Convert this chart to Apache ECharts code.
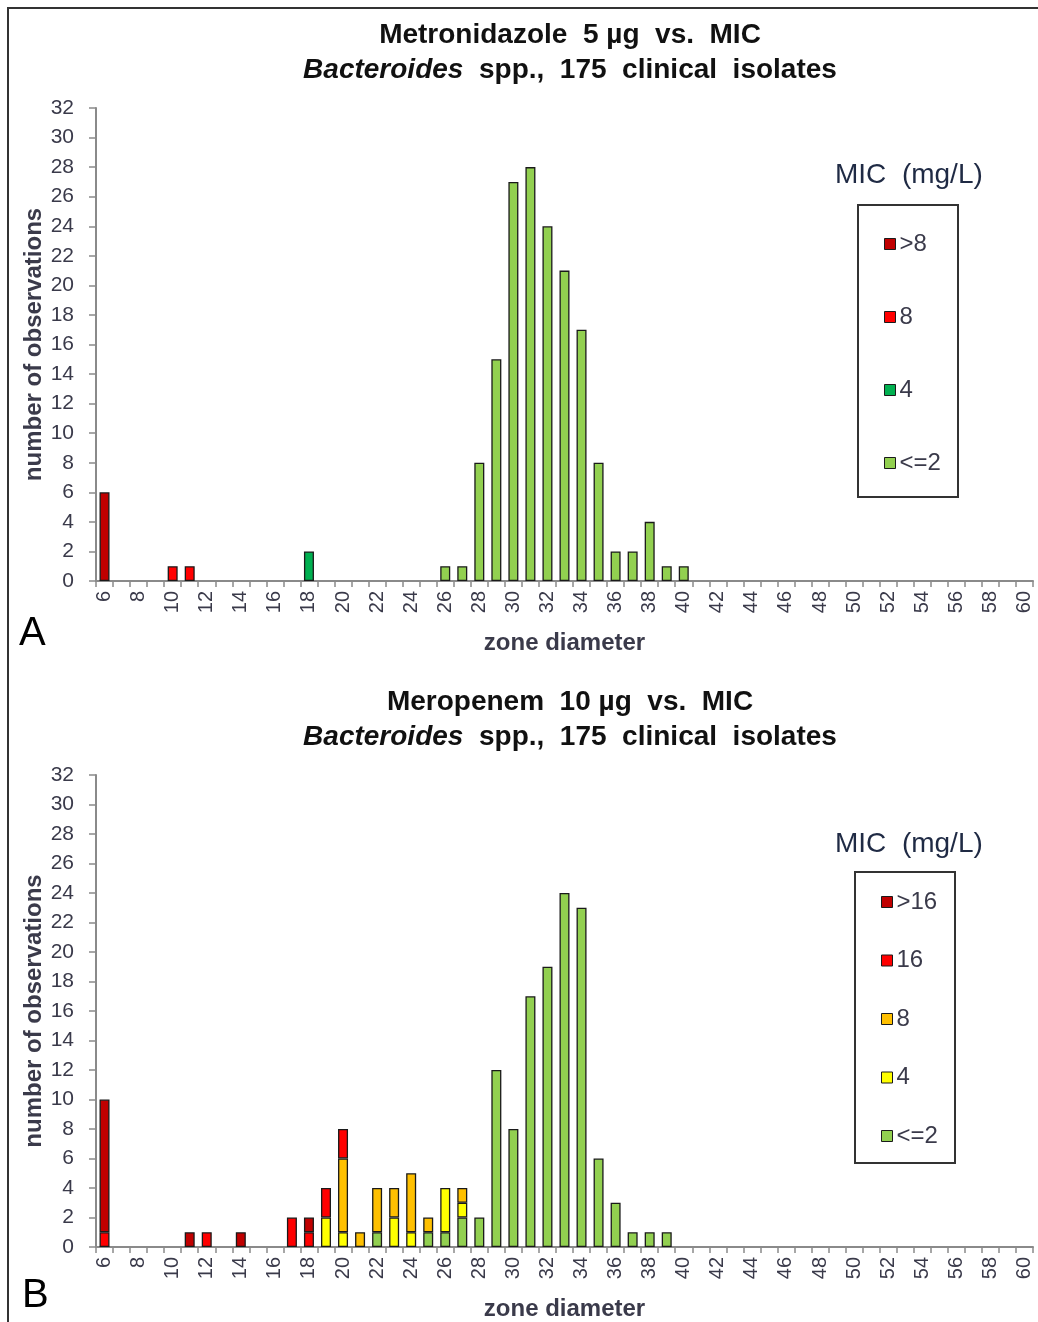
<!DOCTYPE html>
<html>
<head>
<meta charset="utf-8">
<script src="https://cdn.jsdelivr.net/npm/echarts@6/dist/echarts.min.js"></script>
<style>
  html, body { margin: 0; padding: 0; background: #fff; }
  #main { width: 1038px; height: 1322px; }
</style>
</head>
<body>
<div id="main"></div>
<script>
// zone diameters 6..60 mm
const zones = [];
for (let z = 6; z <= 60; z++) zones.push(String(z));
const yTicks = { min: 0, max: 32, interval: 2 };

// A: metronidazole, [zone, count] per MIC class
const metroGt8 = [[6, 6]];
const metro8 = [[10, 1], [11, 1]];
const metro4 = [[18, 2]];
const metroLe2 = [[26, 1], [27, 1], [28, 8], [29, 15], [30, 27], [31, 28], [32, 24], [33, 21],
  [34, 17], [35, 8], [36, 2], [37, 2], [38, 4], [39, 1], [40, 1]];

// B: meropenem, [zone, count] per MIC class
const meroGt16 = [[6, 9], [11, 1], [14, 1], [18, 1]];
const mero16 = [[6, 1], [12, 1], [17, 2], [18, 1], [19, 2], [20, 2]];
const mero8 = [[20, 5], [21, 1], [22, 3], [23, 2], [24, 4], [25, 1], [27, 1]];
const mero4 = [[19, 2], [20, 1], [23, 2], [24, 1], [26, 3], [27, 1]];
const meroLe2 = [[22, 1], [25, 1], [26, 1], [27, 2], [28, 2], [29, 12], [30, 8], [31, 17],
  [32, 19], [33, 24], [34, 23], [35, 6], [36, 3], [37, 1], [38, 1], [39, 1]];

// spread [zone, count] pairs over the category axis
function toSeriesData(pairs) {
  const out = zones.map(() => null);
  pairs.forEach(([z, n]) => { out[z - 6] = n; });
  return out;
}

const FONT = "'Liberation Sans', Arial, sans-serif";
const TXT = '#3a3a4a';

function barSeries(name, pairs, color, idx, stack) {
  return {
    name: name,
    type: 'bar',
    stack: stack,
    xAxisIndex: idx,
    yAxisIndex: idx,
    barWidth: 10,
    data: toSeriesData(pairs),
    itemStyle: { color: color, borderColor: '#1a1a1a', borderWidth: 1.3 }
  };
}

function xAxisFor(idx) {
  return {
    type: 'category',
    gridIndex: idx,
    data: zones,
    name: 'zone diameter',
    nameLocation: 'middle',
    nameGap: 50,
    nameTextStyle: { fontFamily: FONT, fontSize: 24, fontWeight: 'bold', color: TXT },
    axisLine: { lineStyle: { color: '#8a8a8a', width: 2 } },
    axisTick: { show: true, interval: 0, length: 6, lineStyle: { color: '#8a8a8a', width: 1.5 } },
    axisLabel: { interval: 1, rotate: 90, margin: 10, fontFamily: FONT, fontSize: 20, color: TXT }
  };
}

function yAxisFor(idx) {
  return {
    type: 'value',
    gridIndex: idx,
    min: yTicks.min,
    max: yTicks.max,
    interval: yTicks.interval,
    name: 'number of observations',
    nameLocation: 'middle',
    nameGap: 50,
    nameMoveOverlap: false,
    nameTextStyle: { fontFamily: FONT, fontSize: 24, fontWeight: 'bold', color: TXT },
    splitLine: { show: false },
    axisLine: { show: true, lineStyle: { color: '#8a8a8a', width: 2 } },
    axisTick: { show: true, length: 7, lineStyle: { color: '#8a8a8a', width: 1.5 } },
    axisLabel: { margin: 22, fontFamily: FONT, fontSize: 21, color: TXT }
  };
}

function legendFor(names, left, top, gap) {
  return {
    orient: 'vertical',
    left: left,
    top: top,
    data: names,
    itemWidth: 11,
    itemHeight: 11,
    itemGap: gap,
    icon: 'rect',
    selectedMode: false,
    formatter: n => n.slice(2),
    itemStyle: { borderColor: '#1a1a1a', borderWidth: 1 },
    textStyle: { fontFamily: FONT, fontSize: 24, color: TXT, lineHeight: 24, padding: [0, 0, 0, -1] }
  };
}

const titleStyle = {
  fontFamily: FONT, fontSize: 28, fontWeight: 'bold', color: '#111', lineHeight: 35,
  rich: { i: { fontFamily: FONT, fontSize: 28, fontWeight: 'bold', fontStyle: 'italic', color: '#111' } }
};

const chart = echarts.init(document.getElementById('main'));
chart.setOption({
  animation: false,
  backgroundColor: '#fff',
  title: [
    { text: 'Metronidazole  5 µg  vs.  MIC\n{i|Bacteroides}  spp.,  175  clinical  isolates',
      left: 565, top: 13, textAlign: 'center', textStyle: titleStyle },
    { text: 'Meropenem  10 µg  vs.  MIC\n{i|Bacteroides}  spp.,  175  clinical  isolates',
      left: 565, top: 680, textAlign: 'center', textStyle: titleStyle }
  ],
  grid: [
    { left: 96, top: 108, width: 937, height: 473 },
    { left: 96, top: 775, width: 937, height: 473 }
  ],
  xAxis: [xAxisFor(0), xAxisFor(1)],
  yAxis: [yAxisFor(0), yAxisFor(1)],
  legend: [
    legendFor(['A >8', 'A 8', 'A 4', 'A <=2'], 879, 227, 49),
    legendFor(['B >16', 'B 16', 'B 8', 'B 4', 'B <=2'], 876, 885, 34.5)
  ],
  series: [
    barSeries('A <=2', metroLe2, '#92D050', 0, 'a'),
    barSeries('A 4', metro4, '#00B050', 0, 'a'),
    barSeries('A 8', metro8, '#FF0000', 0, 'a'),
    barSeries('A >8', metroGt8, '#C00000', 0, 'a'),
    barSeries('B <=2', meroLe2, '#92D050', 1, 'b'),
    barSeries('B 4', mero4, '#FFFF00', 1, 'b'),
    barSeries('B 8', mero8, '#FFC000', 1, 'b'),
    barSeries('B 16', mero16, '#FF0000', 1, 'b'),
    barSeries('B >16', meroGt16, '#C00000', 1, 'b')
  ],
  graphic: [
    { type: 'rect', shape: { x: 8, y: 8, width: 1040, height: 1330 },
      style: { fill: 'none', stroke: '#333', lineWidth: 2 } },
    { type: 'rect', shape: { x: 858, y: 205, width: 100, height: 292 },
      style: { fill: 'none', stroke: '#333', lineWidth: 2 } },
    { type: 'rect', shape: { x: 855, y: 872, width: 100, height: 291 },
      style: { fill: 'none', stroke: '#333', lineWidth: 2 } },
    { type: 'text', left: 835, top: 161,
      style: { text: 'MIC  (mg/L)', font: '28px ' + FONT, fill: '#1f2a44' } },
    { type: 'text', left: 835, top: 830,
      style: { text: 'MIC  (mg/L)', font: '28px ' + FONT, fill: '#1f2a44' } },
    { type: 'text', left: 19, top: 614, style: { text: 'A', font: '40px ' + FONT, fill: '#000' } },
    { type: 'text', left: 22, top: 1276, style: { text: 'B', font: '40px ' + FONT, fill: '#000' } }
  ]
});
</script>
</body>
</html>
